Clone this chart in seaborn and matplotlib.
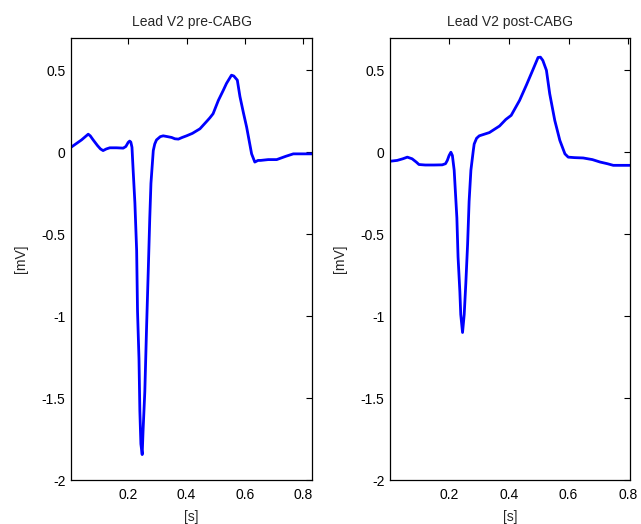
import numpy as np
import pandas as pd
import matplotlib
matplotlib.use("Agg")
import matplotlib.pyplot as plt
import seaborn as sns

# ---- data ----
pre_t = [0.004, 0.02, 0.04, 0.063, 0.07, 0.08, 0.095, 0.105, 0.114, 0.125, 0.137, 0.16,
         0.183, 0.192, 0.200, 0.205, 0.209, 0.213, 0.217, 0.223, 0.229, 0.232, 0.237,
         0.240, 0.2435, 0.248, 0.251, 0.257, 0.263, 0.269, 0.274, 0.278, 0.286, 0.291,
         0.297, 0.31, 0.32, 0.335, 0.349, 0.36, 0.372, 0.385, 0.40, 0.42, 0.446, 0.47,
         0.48, 0.491, 0.509, 0.526, 0.537, 0.554, 0.562, 0.574, 0.583, 0.595, 0.606,
         0.623, 0.634, 0.645, 0.654, 0.68, 0.709, 0.74, 0.766, 0.80, 0.83]
pre_v = [0.03, 0.05, 0.075, 0.11, 0.10, 0.075, 0.04, 0.02, 0.01, 0.02, 0.027, 0.027,
         0.025, 0.035, 0.06, 0.068, 0.062, 0.03, -0.11, -0.31, -0.60, -0.97, -1.26,
         -1.58, -1.78, -1.845, -1.70, -1.46, -1.07, -0.71, -0.40, -0.19, 0.01, 0.05,
         0.075, 0.095, 0.10, 0.095, 0.09, 0.082, 0.08, 0.09, 0.10, 0.115, 0.143, 0.19,
         0.21, 0.235, 0.316, 0.378, 0.42, 0.47, 0.465, 0.44, 0.34, 0.24, 0.153,
         -0.01, -0.06, -0.05, -0.05, -0.045, -0.045, -0.025, -0.01, -0.01, -0.01]

post_t = [0.002, 0.026, 0.045, 0.06, 0.076, 0.09, 0.099, 0.12, 0.15, 0.177, 0.188, 0.194,
          0.2, 0.206, 0.211, 0.217, 0.226, 0.230, 0.236, 0.239, 0.245, 0.2506, 0.256,
          0.262, 0.267, 0.273, 0.281, 0.284, 0.292, 0.301, 0.318, 0.335, 0.346, 0.369,
          0.39, 0.408, 0.436, 0.459, 0.48, 0.498, 0.506, 0.514, 0.526, 0.537, 0.554,
          0.571, 0.588, 0.599, 0.62, 0.649, 0.68, 0.706, 0.73, 0.75, 0.78, 0.805]
post_v = [-0.055, -0.05, -0.04, -0.03, -0.04, -0.06, -0.075, -0.078, -0.078, -0.077, -0.07, -0.05,
          -0.02, 0.0, -0.02, -0.11, -0.40, -0.64, -0.85, -0.99, -1.10, -0.99, -0.80,
          -0.56, -0.30, -0.11, 0.01, 0.05, 0.085, 0.10, 0.11, 0.12, 0.133, 0.16,
          0.20, 0.225, 0.316, 0.41, 0.50, 0.578, 0.58, 0.56, 0.50, 0.357, 0.194,
          0.072, -0.01, -0.03, -0.033, -0.035, -0.045, -0.06, -0.07, -0.08, -0.08, -0.08]

titles = ["Lead V2 pre-CABG", "Lead V2 post-CABG"]
x_ticks = [0.2, 0.4, 0.6, 0.8]
x_ticklabels = ["0.2", "0.4", "0.6", "0.8"]
y_ticks = [-2, -1.5, -1, -0.5, 0, 0.5]
y_ticklabels = ["-2", "-1.5", "-1", "-0.5", "0", "0.5"]

sns.set_style("white")
plt.rcParams["font.family"] = ["Liberation Sans", "DejaVu Sans"]
plt.rcParams["axes.unicode_minus"] = False

fig = plt.figure(figsize=(6.41, 5.24), dpi=100)
ax1 = fig.add_axes([71 / 641, 1 - 480 / 524, 241 / 641, 442.5 / 524])
ax2 = fig.add_axes([390 / 641, 1 - 480 / 524, 240 / 641, 442.5 / 524])

panels = [
    (ax1, pre_t, pre_v, titles[0], (0.004, 0.83)),
    (ax2, post_t, post_v, titles[1], (0.002, 0.806)),
]

for ax, t, v, title, xl in panels:
    df = pd.DataFrame({"t": t, "v": v})
    sns.lineplot(data=df, x="t", y="v", ax=ax, color="#0000FF", linewidth=2.0,
                 estimator=None, sort=False)
    ax.set_xlim(*xl)
    ax.set_ylim(-2, 0.7)
    ax.set_xticks(x_ticks)
    ax.set_xticklabels(x_ticklabels)
    ax.set_yticks(y_ticks)
    ax.set_yticklabels(y_ticklabels)
    ax.tick_params(direction="in", length=4, width=0.8, top=True, right=True,
                   labelsize=10, colors="black")
    ax.tick_params(axis="x", pad=6)
    ax.tick_params(axis="y", pad=4)
    for s in ax.spines.values():
        s.set_visible(True)
        s.set_color("black")
        s.set_linewidth(0.9)
    ax.set_title(title, fontsize=10, pad=8)
    ax.set_xlabel("[s]", fontsize=10)
    ax.set_ylabel("[mV]", fontsize=10)
    ax.xaxis.set_label_coords(0.5, -0.068)
    ax.yaxis.set_label_coords(-0.18, 0.5)
    ax.grid(False)

fig.savefig("out.png", dpi=100)
